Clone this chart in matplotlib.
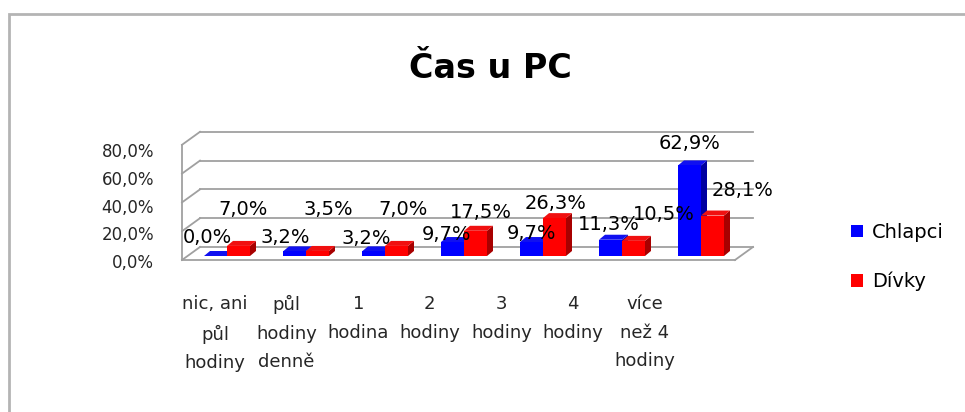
import matplotlib
matplotlib.use('Agg')
import matplotlib.pyplot as plt
from matplotlib.patches import Rectangle

plt.rcParams['font.family'] = ['DejaVu Sans']

# data
categories = ['nic, ani\npůl\nhodiny', 'půl\nhodiny\ndenně', '1\nhodina', '2\nhodiny',
              '3\nhodiny', '4\nhodiny', 'více\nnež 4\nhodiny']
chlapci = [0.0, 3.2, 3.2, 9.7, 9.7, 11.3, 62.9]
divky = [7.0, 3.5, 7.0, 17.5, 26.3, 10.5, 28.1]
yticks = [0, 20, 40, 60, 80]
series_names = ['Chlapci', 'Dívky']

# label offsets (pixels) from the top centre of each bar's front face
blue_dx = [-8, -9, -7, -6, 0, -2, 0]
blue_dy = [19, 14, 13, 8, 9, 15, 22]
red_dx = [5, 11, 7, 5, 1, 30, 30]
red_dy = [36, 41, 36, 18, 15, 26, 25]

W, H = 965, 412
fig = plt.figure(figsize=(W / 100, H / 100), dpi=100)
ax = fig.add_axes([0, 0, 1, 1])

# pixel -> data scale (x: one category per 79 px, y: 1.44 px per percent)
X0, SX = 227, 79.0
Y0, SY = 260, 1.44
ax.set_xlim(-X0 / SX, (W - X0) / SX)
ax.set_ylim((Y0 - H) / SY, Y0 / SY)
ax.axis('off')

def px(x):
    return (x - X0) / SX

def py(y):
    return (Y0 - y) / SY

# chart border
ax.add_patch(Rectangle((px(9), py(H + 20)), (W + 40) / SX, (H + 6) / SY,
                       fill=False, ec='#b4b4b4', lw=2.0, zorder=0))

# walls and floor
xl, xr = px(182), px(735)
dx, dy = 18 / SX, 13 / SY
wall = dict(color='#a0a0a0', lw=1.3, zorder=1)
for t in yticks:
    ax.plot([xl, xl + dx], [t, t + dy], **wall)
    ax.plot([xl + dx, xr + dx], [t + dy, t + dy], **wall)
    ax.text(px(154), t * 0.965 - 2.2, f'{t:.1f}'.replace('.', ',') + '%',
            ha='right', va='center', fontsize=12, color='#262626')
ax.plot([xl, xl], [0, yticks[-1]], **wall)
ax.plot([xl, xr], [0, 0], **wall)
ax.plot([xr, xr + dx], [0, dy], **wall)

# 3d-ish bars
x = list(range(len(categories)))
bw = 23 / SX
b0 = py(256)
ddx, ddy = 6 / SX, 5 / SY

def bar3d(xs, vals, front, top, side, label):
    for xi, v in zip(xs, vals):
        x1 = xi + bw / 2
        x0 = xi - bw / 2
        ax.fill([x1, x1 + ddx, x1 + ddx, x1], [b0, b0 + ddy, b0 + v + ddy, b0 + v],
                color=side, lw=0, zorder=2)
        ax.fill([x0, x1, x1 + ddx, x0 + ddx], [b0 + v, b0 + v, b0 + v + ddy, b0 + v + ddy],
                color=top, lw=0, zorder=2)
    return ax.bar(xs, vals, width=bw, bottom=b0, color=front, label=label, zorder=2)

xb = [i - bw / 2 for i in x]
xr_ = [i + bw / 2 for i in x]
hb = bar3d(xb, chlapci, '#0000ff', '#1010f0', '#0000a0', series_names[0])
hr = bar3d(xr_, divky, '#ff0000', '#f01010', '#a80000', series_names[1])

# data labels
for i in x:
    ax.annotate(f'{chlapci[i]:.1f}'.replace('.', ',') + '%', (xb[i], b0 + chlapci[i]),
                xytext=(blue_dx[i], blue_dy[i]), textcoords='offset pixels',
                ha='center', va='center', fontsize=14, color='black', zorder=5)
    ax.annotate(f'{divky[i]:.1f}'.replace('.', ',') + '%', (xr_[i], b0 + divky[i]),
                xytext=(red_dx[i], red_dy[i]), textcoords='offset pixels',
                ha='center', va='center', fontsize=14, color='black', zorder=5)

# category labels (front edge, perspective-compressed)
for i, c in enumerate(categories):
    ax.text(px(215) + i * 71.6 / SX, py(295), c, ha='center', va='top',
            fontsize=13, color='#262626', linespacing=1.76)

# title
fig.text(490 / W, 1 - 78 / H, 'Čas u PC', ha='center', va='baseline',
         fontsize=24, fontweight='bold', color='black')

# legend
leg = fig.legend(handles=[hb, hr], loc='upper left', bbox_to_anchor=(845 / W, 1 - 217 / H),
                 frameon=False, fontsize=14, handlelength=0.65, handleheight=0.65,
                 handletextpad=0.42, labelspacing=1.53, borderaxespad=0, borderpad=0.3)

fig.savefig('out.png', dpi=100)
